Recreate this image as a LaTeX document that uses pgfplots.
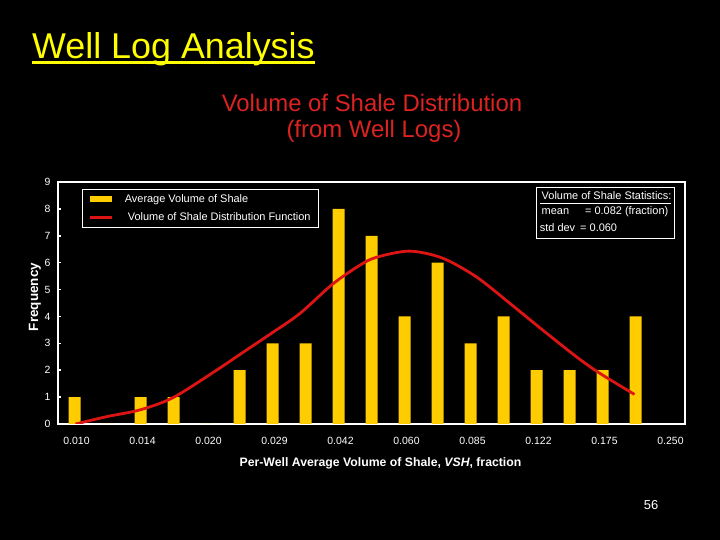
\documentclass[border=0pt]{standalone}
\usepackage{pgfplots}
\pgfplotsset{compat=1.18}
\usepackage{fontspec}
\setmainfont{Liberation Sans}
\definecolor{baryellow}{HTML}{FFCC00}
\definecolor{curvered}{HTML}{DD1414}
\definecolor{titleyellow}{HTML}{FFFF00}
\definecolor{subred}{HTML}{DD2222}
\begin{document}
\begin{tikzpicture}
\fill[black] (0bp,0bp) rectangle (720bp,540bp);
\node[anchor=base west, inner sep=0pt, text=titleyellow, font=\fontsize{36}{42}\selectfont] at (32bp,481bp) {Well Log Analysis};
\draw[titleyellow, line width=2.5bp] (32bp,477.5bp) -- (315bp,477.5bp);
\node[anchor=base, inner sep=0pt, text=subred, font=\fontsize{24}{28}\selectfont] at (372bp,428bp) {Volume of Shale Distribution};
\node[anchor=base, inner sep=0pt, text=subred, font=\fontsize{24}{28}\selectfont] at (374bp,402bp) {(from Well Logs)};
\node[anchor=base, inner sep=0pt, text=white, font=\fontsize{13}{15}\selectfont] at (651bp,31bp) {56};
\begin{axis}[
  at={(58bp,116bp)}, anchor=south west,
  scale only axis, width=627bp, height=242bp,
  xmin=-0.5, xmax=18.5, ymin=0, ymax=9,
  axis background/.style={fill=black},
  axis line style={white, line width=2bp},
  /pgf/number format/assume math mode=true,
  tick pos=left, tick align=inside,
  ytick={0,1,...,9},
  major tick length=3bp, minor tick length=3bp,
  tick style={white, line width=1.5bp},
  xtick={0,2,...,18},
  xticklabels={0.010,0.014,0.020,0.029,0.042,0.060,0.085,0.122,0.175,0.250},
  xtick style={draw=none},
  minor xtick={0.5,1.5,...,17.5},
  minor tick style={white, line width=1.5bp},
  ticklabel style={text=white, font=\fontsize{10.5}{12}\selectfont},
  xticklabel style={yshift=-10bp, xshift=2bp},
  yticklabel style={xshift=-4bp},
  xlabel={\textbf{Per-Well Average Volume of Shale, \textit{VSH}, fraction}},
  xlabel style={text=white, font=\fontsize{12.3}{14}\selectfont, xshift=9bp, yshift=-6bp},
  ylabel={\textbf{Frequency}},
  ylabel style={text=white, font=\fontsize{13.5}{15}\selectfont, yshift=-3bp, xshift=6bp},
  legend style={at={(0.038,0.971)}, anchor=north west, draw=white, line width=1bp,
    fill=black, text=white, font=\fontsize{11}{13}\selectfont,
    cells={anchor=west}, row sep=5bp, inner xsep=6bp, inner ysep=3bp},
]
\addplot[ybar, bar width=12bp, fill=baryellow, draw=none,
  legend image code/.code={\fill[baryellow] (0bp,-3bp) rectangle (22bp,3bp);}]
  coordinates {(0,1) (1,0) (2,1) (3,1) (4,0) (5,2) (6,3) (7,3) (8,8) (9,7)
    (10,4) (11,6) (12,3) (13,4) (14,2) (15,2) (16,2) (17,4)};
\addlegendentry{\hspace{9bp}Average Volume of Shale}
\addplot[curvered, line width=2.8bp, smooth,
  legend image code/.code={\draw[curvered, line width=3.5bp] (0bp,0bp) -- (22bp,0bp);}]
  coordinates {(0.03,0) (1,0.28) (1.97,0.52) (2.97,0.97) (4.18,1.9) (5.21,2.75)
    (6.0,3.4) (6.82,4.1) (7.82,5.2) (8.64,5.9) (9.15,6.2) (10.15,6.43) (11.15,6.17)
    (12.18,5.47) (13.18,4.5) (14.18,3.5) (15.21,2.5) (15.9,1.9) (16.97,1.1)};
\addlegendentry{\hspace{12bp}Volume of Shale Distribution Function}
\node[anchor=north east, draw=white, line width=1bp, fill=black, text=white,
  font=\fontsize{11}{13}\selectfont, inner xsep=3bp, inner ysep=3bp]
  at (rel axis cs:0.984,0.979)
  {\begin{tabular}{@{}l@{}}\,Volume of Shale Statistics:\\[-1pt]
   \noalign{\hrule height 1.3pt\vskip 2pt}
   \,mean\hspace{16bp}= 0.082 (fraction)\\[4pt]
   std dev\hspace{5bp}= 0.060\end{tabular}};
\end{axis}
\end{tikzpicture}
\end{document}
